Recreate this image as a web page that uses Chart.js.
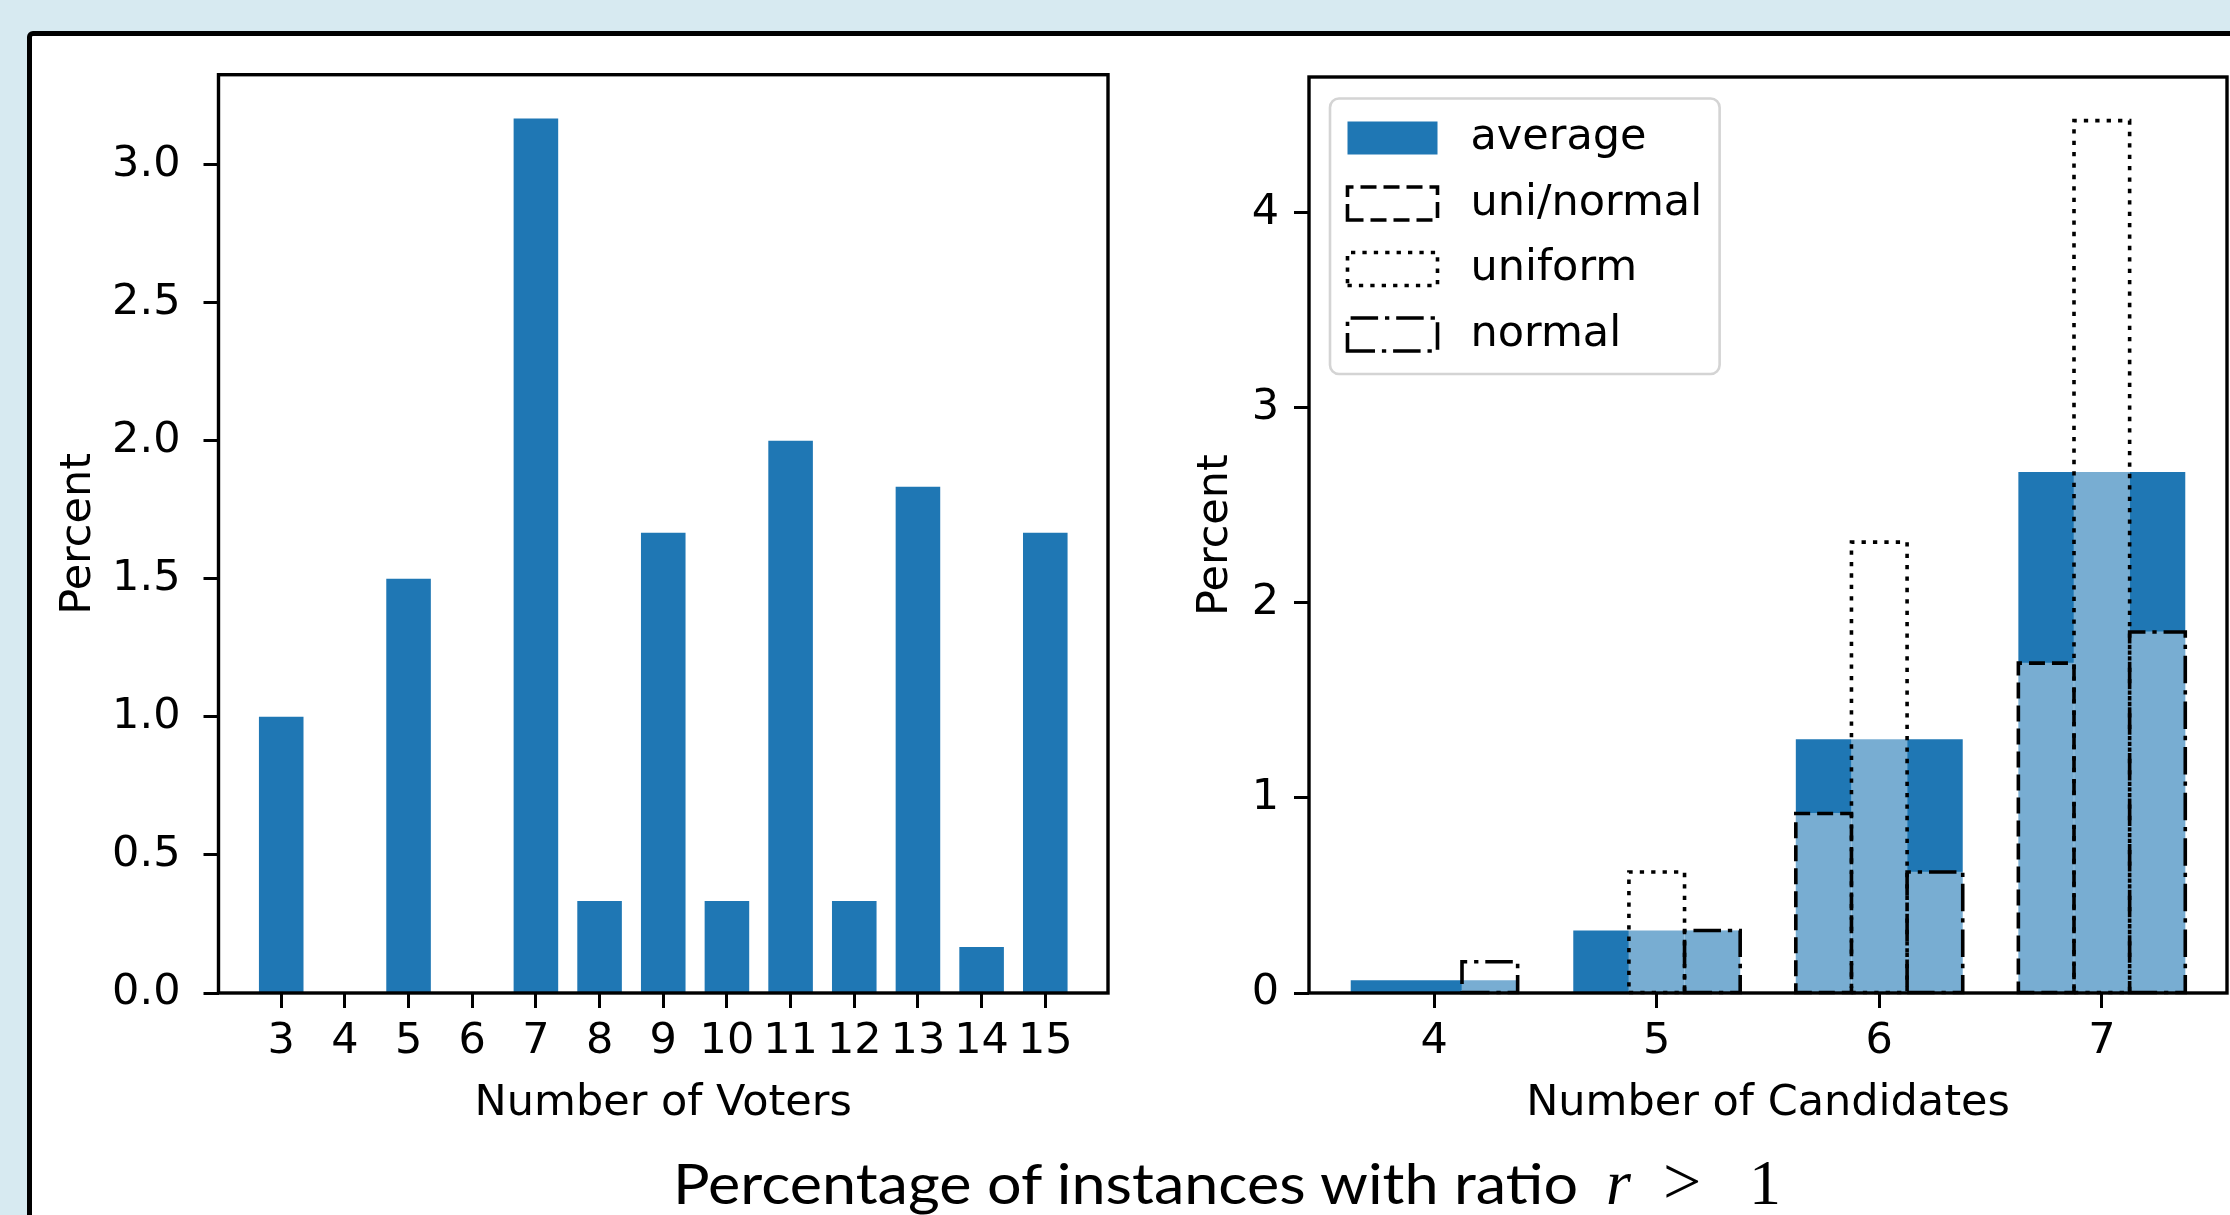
<!DOCTYPE html>
<html>
<head>
<meta charset="utf-8">
<script src="https://cdn.jsdelivr.net/npm/chart.js@4.4.1/dist/chart.umd.min.js"></script>
<style>
  html, body { margin: 0; padding: 0; }
  body { width: 2230px; height: 1215px; background: #d7eaf1; position: relative; overflow: hidden; }
  .card { position: absolute; left: 27px; top: 31px; width: 2400px; height: 1400px; background: #fff;
          border: 5px solid #000; border-radius: 6px; box-sizing: border-box; }
  canvas { position: absolute; top: 0; }
  #voters { left: 0; }
  #cands { left: 1140px; }
  #title { position: absolute; left: 673px; top: 1147px; display: flex; align-items: baseline;
           line-height: 1; white-space: nowrap; color: #000; }
  #title .seg { flex: 0 0 auto; display: inline-block; }
  #tt { display: inline-block; font-family: Lato, sans-serif; font-weight: 400; font-size: 57px;
        transform-origin: 0 0; }
  #title .m { font-family: 'Liberation Serif', serif; font-size: 64px; }
  #title .it { font-style: italic; }
  #title .rel { font-size: 68px; }
</style>
</head>
<body>
<div class="card"></div>
<canvas id="voters" width="1150" height="1130"></canvas>
<canvas id="cands" width="1090" height="1130"></canvas>
<div id="title">
  <span class="seg" style="width:933px"><span id="tt">Percentage of instances with ratio</span></span>
  <span class="seg m it" style="width:57px">r</span>
  <span class="seg m rel" style="width:86px">&gt;</span>
  <span class="seg m">1</span>
</div>
<script>
// left panel
const voters = [3, 4, 5, 6, 7, 8, 9, 10, 11, 12, 13, 14, 15];
const voterPercent = [1.0, 0, 1.5, 0, 3.167, 0.333, 1.667, 0.333, 2.0, 0.333, 1.833, 0.167, 1.667];
const voterYTicks = [0, 0.5, 1.0, 1.5, 2.0, 2.5, 3.0];

// right panel
const candidates = [4, 5, 6, 7];
const averagePercent = [0.065, 0.32, 1.30, 2.67];
const uniNormalPercent = [0, 0, 0.92, 1.69];
const uniformPercent = [0, 0.62, 2.31, 4.47];
const normalPercent = [0.16, 0.32, 0.62, 1.85];
const seriesLabels = ['average', 'uni/normal', 'uniform', 'normal'];
const candYTicks = [0, 1, 2, 3, 4];

const fs = 43;
const C0 = '#1f77b4';
const DASHED = [16, 7];
const DOTTED = [4.3, 7.1];
const DASHDOT = [27.5, 6.9, 4.3, 6.9];

Chart.defaults.font.family = "'DejaVu Sans', sans-serif";
Chart.defaults.font.size = fs;
Chart.defaults.color = '#000';
Chart.defaults.animation = false;

// matplotlib-like 5% margins around the data
function withMargin(lo, hi) {
  const m = (hi - lo) * 0.05;
  return [lo - m, hi + m];
}

// fit the title text part to the width it takes in the picture
const tt = document.getElementById('tt');
tt.style.transform = 'scaleX(' + (905 / tt.getBoundingClientRect().width) + ')';

const framePlugin = {
  id: 'frame',
  afterDatasetsDraw(chart) {
    const { ctx, chartArea: a } = chart;
    ctx.save();
    ctx.lineWidth = 3.4;
    ctx.strokeStyle = '#000';
    ctx.strokeRect(a.left, a.top, a.right - a.left, a.bottom - a.top);
    ctx.restore();
  }
};

function rectPath(ctx, l, r, top, bottom) {
  ctx.beginPath();
  ctx.moveTo(l, bottom);
  ctx.lineTo(r, bottom);
  ctx.lineTo(r, top);
  ctx.lineTo(l, top);
  ctx.closePath();
}

// dashed / dotted edges of the bars (Chart.js bars have no dashed borders)
const outlinePlugin = {
  id: 'outlines',
  afterDatasetsDraw(chart) {
    const ctx = chart.ctx;
    chart.data.datasets.forEach((ds, i) => {
      if (!ds.dash) return;
      chart.getDatasetMeta(i).data.forEach(bar => {
        const { x, y, base, width } = bar.getProps(['x', 'y', 'base', 'width'], true);
        if (Math.abs(base - y) < 1) return;
        ctx.save();
        rectPath(ctx, x - width / 2, x + width / 2, y, base);
        ctx.setLineDash(ds.dash);
        ctx.lineWidth = 3.6;
        ctx.strokeStyle = '#000';
        ctx.stroke();
        ctx.restore();
      });
    });
  }
};

const legendPlugin = {
  id: 'boxLegend',
  afterDatasetsDraw(chart) {
    const { ctx, chartArea: a } = chart;
    const items = chart.data.datasets;
    const pad = 17.5, handleW = 90, handleH = 33, gap = 33, rowH = 65.5, first = 39.5;
    ctx.save();
    ctx.font = fs + "px 'DejaVu Sans'";
    const textW = Math.max(...items.map(d => ctx.measureText(d.label).width));
    const x0 = a.left + 21, y0 = a.top + 21.5;
    const w = pad + handleW + gap + textW + pad;
    const h = first * 2 + rowH * (items.length - 1);
    ctx.beginPath();
    ctx.roundRect(x0, y0, w, h, 9);
    ctx.fillStyle = 'rgba(255,255,255,0.8)';
    ctx.fill();
    ctx.lineWidth = 2.6;
    ctx.strokeStyle = '#d4d4d4';
    ctx.stroke();
    items.forEach((d, i) => {
      const cy = y0 + first + i * rowH;
      const hx = x0 + pad;
      if (d.dash) {
        rectPath(ctx, hx, hx + handleW, cy - handleH / 2, cy + handleH / 2);
        ctx.setLineDash(d.dash);
        ctx.lineWidth = 3.6;
        ctx.strokeStyle = '#000';
        ctx.stroke();
        ctx.setLineDash([]);
      } else {
        ctx.fillStyle = d.backgroundColor;
        ctx.fillRect(hx, cy - handleH / 2, handleW, handleH);
      }
      ctx.fillStyle = '#000';
      ctx.textBaseline = 'middle';
      ctx.textAlign = 'left';
      ctx.fillText(d.label, hx + handleW + gap, cy);
    });
    ctx.restore();
  }
};

function yAxis(max, ticks, fmt, width, titlePad, labelPad) {
  return {
    type: 'linear', min: 0, max: max,
    afterBuildTicks: s => { s.ticks = ticks.map(v => ({ value: v })); },
    afterFit: s => { s.width = width; },
    ticks: { callback: fmt, padding: labelPad, color: '#000' },
    grid: { drawOnChartArea: false, tickLength: 15, tickWidth: 3, tickColor: '#000' },
    border: { display: false },
    title: { display: true, text: 'Percent', color: '#000', padding: { top: titlePad, bottom: 0 } }
  };
}

function xAxis(range, ticks, title) {
  return {
    type: 'linear', min: range[0], max: range[1], offset: false,
    afterBuildTicks: s => { s.ticks = ticks.map(v => ({ value: v })); },
    afterFit: s => { s.height = 137; },
    ticks: { callback: v => String(v), padding: 8, color: '#000', autoSkip: false, maxRotation: 0 },
    grid: { drawOnChartArea: false, offset: false, tickLength: 15, tickWidth: 3, tickColor: '#000' },
    border: { display: false },
    title: { display: true, text: title, color: '#000', padding: { top: 0, bottom: 0 } }
  };
}

// Left: number of voters
const voterRange = withMargin(voters[0] - 0.35, voters[voters.length - 1] + 0.35);
new Chart(document.getElementById('voters'), {
  type: 'bar',
  data: {
    datasets: [{
      data: voters.map((v, i) => ({ x: v, y: voterPercent[i] })),
      backgroundColor: C0,
      borderWidth: 0,
      grouped: false,
      barPercentage: 0.7,
      categoryPercentage: 1
    }]
  },
  options: {
    responsive: false,
    layout: { padding: { left: 0, top: 74.7, right: 42, bottom: 0 } },
    plugins: { legend: { display: false }, tooltip: { enabled: false } },
    scales: {
      x: xAxis(voterRange, voters, 'Number of Voters'),
      y: yAxis(Math.max(...voterPercent) * 1.05, voterYTicks, v => v.toFixed(1), 218.5, 53, 23)
    }
  },
  plugins: [framePlugin]
});

// Right: number of candidates
const candRange = withMargin(candidates[0] - 0.375, candidates[candidates.length - 1] + 0.375);
const subSeries = [uniNormalPercent, uniformPercent, normalPercent];
const subDash = [DASHED, DOTTED, DASHDOT];
const candMax = Math.max(...averagePercent, ...uniNormalPercent, ...uniformPercent, ...normalPercent) * 1.05;

new Chart(document.getElementById('cands'), {
  type: 'bar',
  data: {
    datasets: [{
      label: seriesLabels[0],
      data: candidates.map((c, i) => ({ x: c, y: averagePercent[i] })),
      backgroundColor: C0,
      borderWidth: 0,
      grouped: false,
      barPercentage: 0.75,
      categoryPercentage: 1,
      order: 1
    }].concat(subSeries.map((s, k) => ({
      label: seriesLabels[k + 1],
      data: candidates.map((c, i) => ({ x: c + (k - 1) * 0.25, y: s[i] })),
      xAxisID: 'x2',
      backgroundColor: 'rgba(255,255,255,0.4)',
      borderWidth: 0,
      grouped: false,
      barPercentage: 1,
      categoryPercentage: 1,
      dash: subDash[k],
      order: 0
    })))
  },
  options: {
    responsive: false,
    layout: { padding: { left: 0, top: 77, right: 3, bottom: 0 } },
    plugins: { legend: { display: false }, tooltip: { enabled: false } },
    scales: {
      x: xAxis(candRange, candidates, 'Number of Candidates'),
      x2: {
        type: 'linear', display: false, position: 'bottom', offset: false,
        min: candRange[0], max: candRange[1],
        afterBuildTicks: s => { s.ticks = []; }
      },
      y: yAxis(candMax, candYTicks, v => String(v), 169, 50, 15)
    }
  },
  plugins: [outlinePlugin, framePlugin, legendPlugin]
});
</script>
</body>
</html>
